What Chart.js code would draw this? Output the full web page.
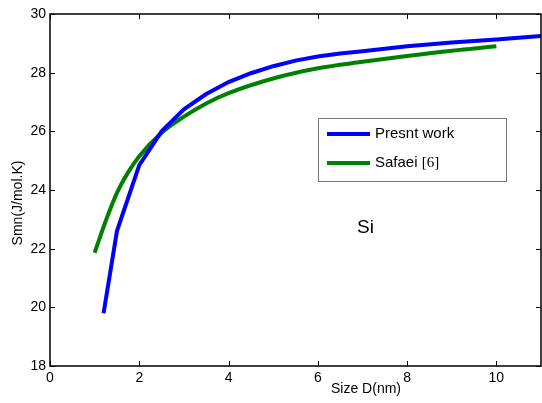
<!DOCTYPE html>
<html>
<head>
<meta charset="utf-8">
<script src="https://cdn.jsdelivr.net/npm/chart.js@4.4.1/dist/chart.umd.min.js"></script>
<style>
  html, body { margin: 0; padding: 0; background: #fff; }
  #wrap { width: 542px; height: 403px; position: relative; }
</style>
</head>
<body>
<div id="wrap"><canvas id="chart"></canvas></div>
<script>
// Present work (blue)
const presentX = [1.2, 1.5, 2, 2.5, 3, 3.5, 4, 4.5, 5, 5.5, 6, 6.5, 7, 8, 9, 10, 11];
const presentY = [19.8, 22.6, 24.85, 26.0, 26.75, 27.27, 27.68, 27.98, 28.22, 28.41, 28.55, 28.65, 28.73, 28.9, 29.03, 29.13, 29.25];
// Safaei [6] (green)
const safaeiX = [1.0, 1.25, 1.5, 1.75, 2, 2.5, 3, 3.5, 4, 5, 6, 7, 8, 9, 10];
const safaeiY = [21.86, 22.95, 23.9, 24.6, 25.15, 25.95, 26.5, 26.95, 27.3, 27.8, 28.15, 28.37, 28.57, 28.75, 28.9];

const xTicks = [0, 2, 4, 6, 8, 10];
const yTicks = [18, 20, 22, 24, 26, 28, 30];

const toPts = (xs, ys) => xs.map((x, i) => ({ x: x, y: ys[i] }));

// box, inward ticks, legend and labels in MATLAB style
const matlabStyle = {
    id: 'matlabStyle',
    afterDraw(chart) {
        const ctx = chart.ctx;
        const a = chart.chartArea;
        const xs = chart.scales.x, ys = chart.scales.y;
        ctx.save();
        ctx.strokeStyle = '#000';
        ctx.lineWidth = 1.5;
        ctx.strokeRect(a.left, a.top, a.right - a.left, a.bottom - a.top);
        ctx.lineWidth = 1;
        ctx.beginPath();
        xTicks.forEach(v => {
            const px = Math.round(xs.getPixelForValue(v)) + 0.5;
            ctx.moveTo(px, a.bottom); ctx.lineTo(px, a.bottom - 5);
            ctx.moveTo(px, a.top); ctx.lineTo(px, a.top + 5);
        });
        yTicks.forEach(v => {
            const py = Math.round(ys.getPixelForValue(v)) + 0.5;
            ctx.moveTo(a.left, py); ctx.lineTo(a.left + 5, py);
            ctx.moveTo(a.right, py); ctx.lineTo(a.right - 5, py);
        });
        ctx.stroke();

        // legend
        ctx.fillStyle = '#fff';
        ctx.fillRect(318, 118, 188, 63);
        ctx.strokeStyle = '#777';
        ctx.lineWidth = 1;
        ctx.strokeRect(318.5, 118.5, 188, 63);
        const ds = chart.data.datasets;
        const rows = [134, 163];
        ds.forEach((d, i) => {
            ctx.strokeStyle = d.borderColor;
            ctx.lineWidth = 4;
            ctx.beginPath();
            ctx.moveTo(327, rows[i]); ctx.lineTo(370, rows[i]);
            ctx.stroke();
        });
        ctx.fillStyle = '#000';
        ctx.textBaseline = 'middle';
        ctx.textAlign = 'left';
        ctx.font = '15px "Liberation Sans", Arial, sans-serif';
        ctx.fillText('Presnt work', 375, rows[0]);
        const safaei = 'Safaei ';
        ctx.fillText(safaei, 375, rows[1]);
        const w = ctx.measureText(safaei).width;
        ctx.font = '15px "Liberation Serif", "Times New Roman", serif';
        ctx.fillText('[6]', 375 + w, rows[1]);

        // annotation
        ctx.font = '19px "Liberation Sans", Arial, sans-serif';
        ctx.fillText('Si', 357, 228);

        // axis titles
        ctx.font = '14px "Liberation Sans", Arial, sans-serif';
        ctx.textAlign = 'center';
        ctx.fillText('Size D(nm)', 366, 389);
        ctx.translate(18, 203);
        ctx.rotate(-Math.PI / 2);
        ctx.font = '14px "Liberation Sans", Arial, sans-serif';
        ctx.fillText('Smn(J/mol.K)', 0, 0);
        ctx.restore();
    }
};

new Chart(document.getElementById('chart'), {
    type: 'scatter',
    data: {
        datasets: [
            {
                label: 'Presnt work',
                data: toPts(presentX, presentY),
                showLine: true,
                borderColor: '#0000ff',
                borderWidth: 4,
                pointRadius: 0,
                tension: 0
            },
            {
                label: 'Safaei [6]',
                data: toPts(safaeiX, safaeiY),
                showLine: true,
                borderColor: '#008000',
                borderWidth: 4,
                pointRadius: 0,
                cubicInterpolationMode: 'monotone'
            }
        ]
    },
    options: {
        responsive: true,
        maintainAspectRatio: false,
        animation: false,
        layout: { padding: { top: 14, right: 1, left: 0, bottom: 0 } },
        plugins: { legend: { display: false }, tooltip: { enabled: false } },
        scales: {
            x: {
                type: 'linear',
                min: 0, max: 11,
                grid: { display: false, drawTicks: false, tickLength: 0 },
                border: { display: false },
                afterBuildTicks: s => { s.ticks = xTicks.map(v => ({ value: v })); },
                afterFit: s => { s.height = 37; },
                ticks: {
                    color: '#000',
                    padding: 4,
                    maxRotation: 0,
                    font: { family: '"Liberation Sans", Arial, sans-serif', size: 14 }
                }
            },
            y: {
                min: 18, max: 30,
                grid: { display: false, drawTicks: false, tickLength: 0 },
                border: { display: false },
                afterBuildTicks: s => { s.ticks = yTicks.map(v => ({ value: v })); },
                afterFit: s => { s.width = 50; },
                ticks: {
                    color: '#000',
                    padding: 4,
                    font: { family: '"Liberation Sans", Arial, sans-serif', size: 14 }
                }
            }
        }
    },
    plugins: [matlabStyle]
});
</script>
</body>
</html>
